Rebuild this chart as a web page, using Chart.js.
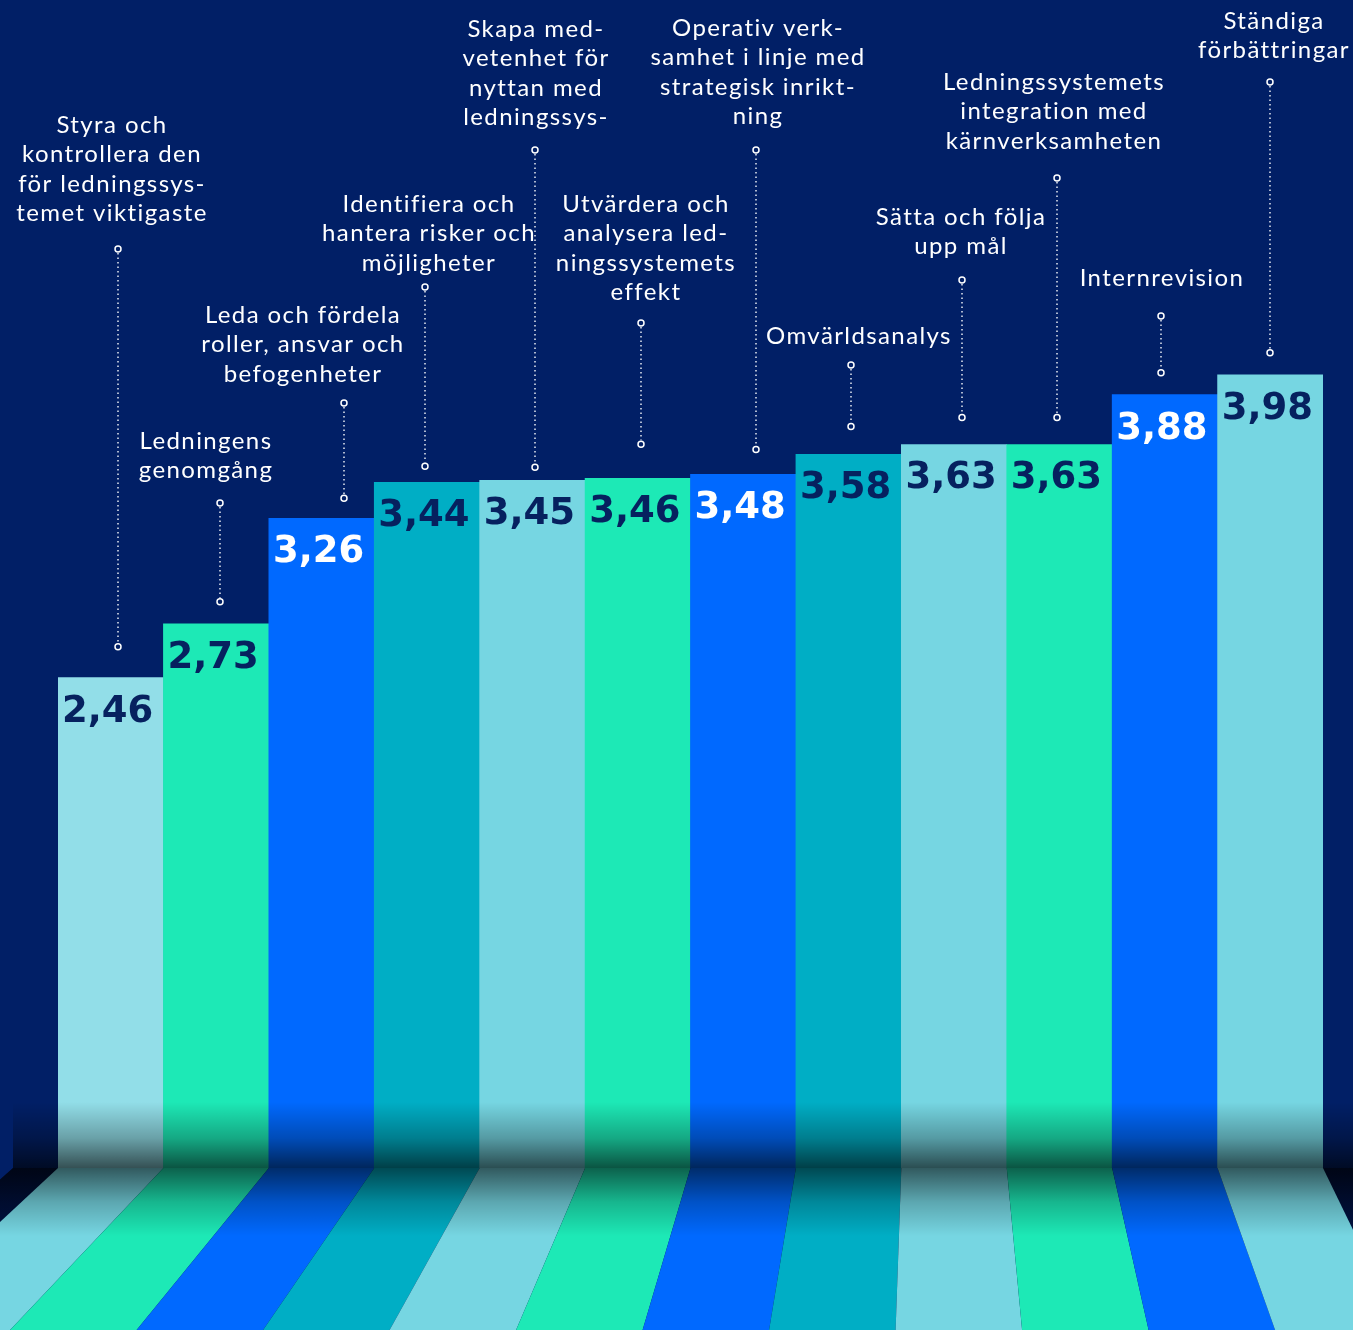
<!DOCTYPE html>
<html lang="sv">
<head>
<meta charset="utf-8">
<title>Ledningssystemet – genomsnittligt betyg per område</title>
<script src="https://cdn.jsdelivr.net/npm/chart.js@4.4.1/dist/chart.umd.min.js"></script>
<style>
  html, body { margin: 0; padding: 0; background: #011f66; }
  #wrap { position: relative; width: 1353px; height: 1330px; }
</style>
</head>
<body>
<div id="wrap"><canvas id="scoreChart"></canvas></div>
<script>
// områden, som de står avstavade ovanför staplarna
const areas = [
    ['Styra och', 'kontrollera den', 'för ledningssys-', 'temet viktigaste'],
    ['Ledningens', 'genomgång'],
    ['Leda och fördela', 'roller, ansvar och', 'befogenheter'],
    ['Identifiera och', 'hantera risker och', 'möjligheter'],
    ['Skapa med-', 'vetenhet för', 'nyttan med', 'ledningssys-'],
    ['Utvärdera och', 'analysera led-', 'ningssystemets', 'effekt'],
    ['Operativ verk-', 'samhet i linje med', 'strategisk inrikt-', 'ning'],
    ['Omvärldsanalys'],
    ['Sätta och följa', 'upp mål'],
    ['Ledningssystemets', 'integration med', 'kärnverksamheten'],
    ['Internrevision'],
    ['Ständiga', 'förbättringar']
];
const scores = [2.46, 2.73, 3.26, 3.44, 3.45, 3.46, 3.48, 3.58, 3.63, 3.63, 3.88, 3.98];

const BG = '#011f66';
const NAVY_TEXT = '#06215f';
const barColors = ['#92dee8', '#1de9b6', '#0069ff', '#00aec5', '#76d6e2', '#1de9b6',
                   '#0069ff', '#00aec5', '#76d6e2', '#1de9b6', '#0069ff', '#76d6e2'];
const floorColors = ['#76d6e2', '#1de9b6', '#0069ff', '#00aec5', '#76d6e2', '#1de9b6',
                     '#0069ff', '#00aec5', '#76d6e2', '#1de9b6', '#0069ff', '#76d6e2'];
const whiteValue = [false, false, true, false, false, false, true, false, false, false, true, false];

// placering av etiketter och prickade linjer (px)
const callouts = [
    { textX: 111, baseline: 133, dotX: 118, dotTop: 249, gap: 31 },
    { textX: 205, baseline: 449, dotX: 220, dotTop: 503, gap: 22 },
    { textX: 302, baseline: 323, dotX: 344, dotTop: 403, gap: 20 },
    { textX: 428, baseline: 212, dotX: 425, dotTop: 287, gap: 16 },
    { textX: 535, baseline: 37,  dotX: 535, dotTop: 150, gap: 13 },
    { textX: 645, baseline: 212, dotX: 641, dotTop: 323, gap: 34 },
    { textX: 757, baseline: 36,  dotX: 756, dotTop: 150, gap: 25 },
    { textX: 858, baseline: 344, dotX: 851, dotTop: 365, gap: 28 },
    { textX: 960, baseline: 225, dotX: 962, dotTop: 280, gap: 27 },
    { textX: 1053, baseline: 90, dotX: 1057, dotTop: 178, gap: 27 },
    { textX: 1161, baseline: 286, dotX: 1161, dotTop: 316, gap: 22 },
    { textX: 1273, baseline: 29, dotX: 1270, dotTop: 82, gap: 22 }
];

const WALL_LEFT = 13;
const VANISH_X = 930;
const FLOOR_SPREAD = 1.2;

function floorX(xTop, y, base, bottom) {
    const t = (y - base) / (bottom - base);
    return VANISH_X + (xTop - VANISH_X) * (1 + (FLOOR_SPREAD - 1) * t);
}

function barEdges(chart) {
    return chart.getDatasetMeta(0).data.map(el => ({
        left: el.x - el.width / 2,
        right: el.x + el.width / 2,
        x: el.x,
        y: el.y
    }));
}

function floorPath(ctx, l, r, base, H) {
    ctx.beginPath();
    ctx.moveTo(l, base);
    ctx.lineTo(r, base);
    ctx.lineTo(floorX(r, H, base, H), H);
    ctx.lineTo(floorX(l, H, base, H), H);
    ctx.closePath();
}

const stage = {
    id: 'stage',
    beforeDraw(chart) {
        const { ctx, width, height } = chart;
        const base = chart.scales.y.getPixelForValue(0);
        ctx.save();
        ctx.fillStyle = BG;
        ctx.fillRect(0, 0, width, height);

        // golvet under väggen
        const g = ctx.createLinearGradient(0, base, 0, height);
        g.addColorStop(0, '#000d33');
        g.addColorStop(1, '#001a58');
        ctx.fillStyle = g;
        floorPath(ctx, WALL_LEFT, width + 60, base, height);
        ctx.fill();

        // färgade golvränder i perspektiv
        barEdges(chart).forEach((b, i) => {
            ctx.fillStyle = floorColors[i];
            floorPath(ctx, b.left, b.right, base, height);
            ctx.fill();
        });
        ctx.restore();
    },
    afterDatasetsDraw(chart) {
        const { ctx, width, height } = chart;
        const base = chart.scales.y.getPixelForValue(0);
        const bars = barEdges(chart);
        ctx.save();

        // skugga längst ner på väggen och staplarna
        const wallShade = ctx.createLinearGradient(0, 1102, 0, base);
        wallShade.addColorStop(0, 'rgba(0,0,0,0)');
        wallShade.addColorStop(0.55, 'rgba(0,0,0,0.28)');
        wallShade.addColorStop(1, 'rgba(0,0,0,0.64)');
        ctx.fillStyle = wallShade;
        ctx.fillRect(WALL_LEFT, 1102, width - WALL_LEFT, base - 1102);

        // skugga överst på golvet
        ctx.save();
        floorPath(ctx, WALL_LEFT, width + 60, base, height);
        ctx.clip();
        const floorShade = ctx.createLinearGradient(0, base, 0, base + 68);
        floorShade.addColorStop(0, 'rgba(0,0,0,0.58)');
        floorShade.addColorStop(0.5, 'rgba(0,0,0,0.22)');
        floorShade.addColorStop(1, 'rgba(0,0,0,0)');
        ctx.fillStyle = floorShade;
        ctx.fillRect(0, base, width, 68);
        ctx.restore();

        // värden i staplarna
        ctx.font = 'bold 37px "DejaVu Sans"';
        ctx.textAlign = 'center';
        ctx.textBaseline = 'alphabetic';
        bars.forEach((b, i) => {
            ctx.fillStyle = whiteValue[i] ? '#ffffff' : NAVY_TEXT;
            ctx.fillText(scores[i].toFixed(2).replace('.', ','), b.x - 3, b.y + 44);
        });

        // områdesnamn med prickad linje ner mot stapeln
        ctx.font = '24px Lato';
        ctx.letterSpacing = '1.4px';
        ctx.fillStyle = '#ffffff';
        areas.forEach((lines, i) => {
            const c = callouts[i];
            lines.forEach((line, j) => {
                ctx.fillText(line, c.textX + 1, c.baseline + j * 29.4);
            });

            const yBottom = bars[i].y - c.gap;
            ctx.strokeStyle = 'rgba(255,255,255,0.9)';
            ctx.lineWidth = 1.5;
            ctx.setLineDash([1.5, 3]);
            ctx.beginPath();
            ctx.moveTo(c.dotX, c.dotTop + 4);
            ctx.lineTo(c.dotX, yBottom - 4);
            ctx.stroke();
            ctx.setLineDash([]);
            [c.dotTop, yBottom].forEach(y => {
                ctx.beginPath();
                ctx.arc(c.dotX, y, 3, 0, Math.PI * 2);
                ctx.fillStyle = BG;
                ctx.fill();
                ctx.strokeStyle = '#ffffff';
                ctx.stroke();
            });
            ctx.fillStyle = '#ffffff';
        });
        ctx.restore();
    }
};

new Chart(document.getElementById('scoreChart'), {
    type: 'bar',
    data: {
        labels: areas.map(a => a.join(' ')),
        datasets: [{
            data: scores,
            backgroundColor: barColors,
            borderWidth: 0,
            barPercentage: 1,
            categoryPercentage: 1
        }]
    },
    options: {
        responsive: true,
        maintainAspectRatio: false,
        animation: false,
        layout: { padding: { left: 58, right: 30, top: 0, bottom: 162 } },
        scales: {
            x: { display: false },
            y: { display: false, min: 0, max: 5.86 }
        },
        plugins: {
            legend: { display: false },
            tooltip: { enabled: false }
        }
    },
    plugins: [stage]
});
</script>
</body>
</html>
